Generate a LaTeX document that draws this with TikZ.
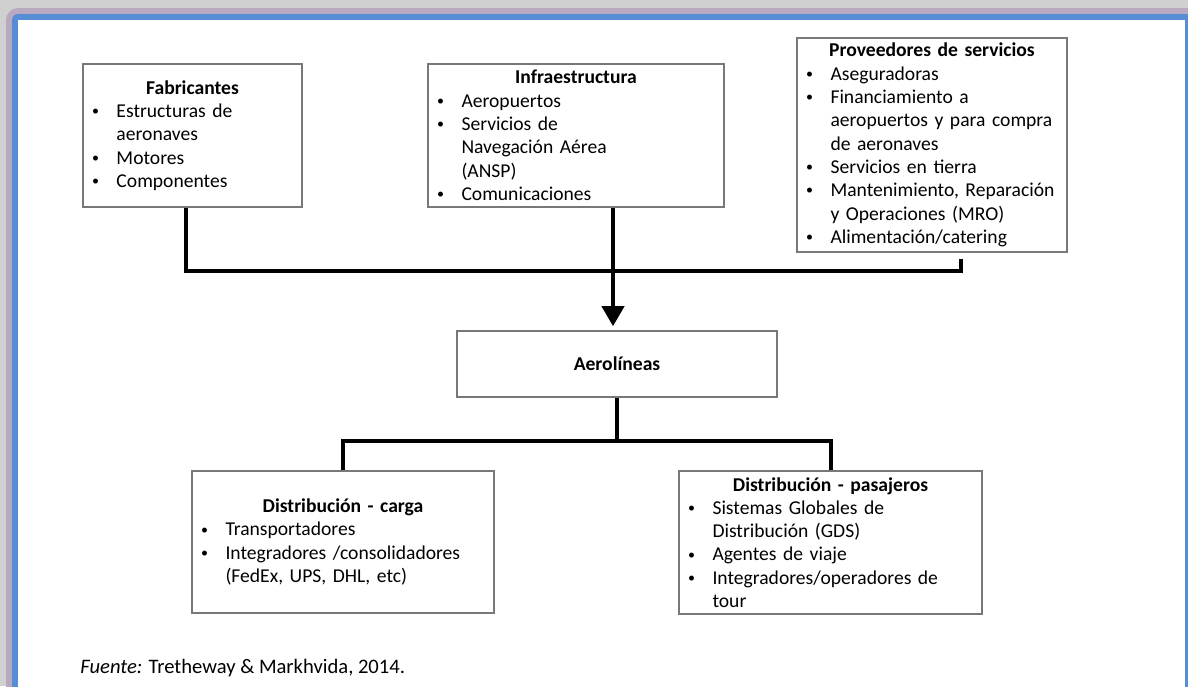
\documentclass[tikz,border=0pt]{standalone}
\usepackage{fontspec}
\setmainfont{Carlito}
\usetikzlibrary{arrows.meta, positioning, calc}
\definecolor{framegray}{RGB}{208, 208, 208}
\definecolor{framepurple}{RGB}{160, 130, 175}
\definecolor{frameblue}{RGB}{86, 142, 214}
\definecolor{boxgray}{RGB}{120, 120, 120}

\newcommand{\blockfont}{\fontsize{9.8}{11.65}\selectfont\spaceskip=0.19em plus 0.1em\relax}
\newcommand{\boxtitle}[1]{\noindent\makebox[\hsize][c]{\bfseries #1}\par}
\newcommand{\bitem}[1]{\noindent\hangindent=16.75pt\hangafter=1\makebox[16.75pt][l]{\hspace{4.6pt}\raisebox{0.9pt}{\fontsize{7}{7}\selectfont\textbullet}}#1\par}

\begin{document}
\begin{tikzpicture}[x=0.5pt, y=-0.5pt,
  block/.style={draw=boxgray, line width=0.8pt, fill=white, inner xsep=0pt, inner ysep=0pt, align=left, font=\blockfont},
  link/.style={line width=2pt},
  arr/.style={line width=2pt, -{Triangle[width=11pt,length=10pt]}, shorten >=2pt}]

  \useasboundingbox (0,0) rectangle (1188,686);

  % Frame
  \fill[framegray] (0,0) rectangle (1188,686);
  \fill[framepurple!50!framegray, rounded corners=6pt] (6,8) rectangle (1200,700);
  \fill[frameblue, rounded corners=3pt] (12,14) rectangle (1200,700);
  \fill[white] (18,20) rectangle (1185,700);

  % Fabricantes
  \node[block, text width=109.5pt, minimum height=71.5pt] (fab) at (192.5,135.5) {
    \boxtitle{Fabricantes}
    \bitem{Estructuras de\newline aeronaves}
    \bitem{Motores}
    \bitem{Componentes}
  };

  % Infraestructura
  \node[block, text width=148pt, minimum height=71.5pt] (infra) at (576,135.5) {
    \boxtitle{Infraestructura}
    \bitem{Aeropuertos}
    \bitem{Servicios de\newline Navegación Aérea\newline (ANSP)}
    \bitem{Comunicaciones}
  };

  % Proveedores de servicios
  \node[block, text width=135pt, minimum height=107pt] (prov) at (932,145) {
    \boxtitle{Proveedores de servicios}
    \bitem{Aseguradoras}
    \bitem{Financiamiento a\newline aeropuertos y para compra\newline de aeronaves}
    \bitem{Servicios en tierra}
    \bitem{Mantenimiento, Reparación\newline y Operaciones (MRO)}
    \bitem{Alimentación/catering}
  };

  % Aerolineas
  \node[block, minimum width=160pt, minimum height=33pt] (aero) at (617,364) {\bfseries Aerolíneas};

  % Distribucion
  \node[block, text width=151pt, minimum height=71pt] (carga) at (343,542) {
    \boxtitle{Distribución - carga}
    \bitem{Transportadores}
    \bitem{Integradores /consolidadores\newline (FedEx, UPS, DHL, etc)}
  };
  \node[block, text width=151.5pt, minimum height=71.5pt] (pas) at (830.5,542.5) {
    \boxtitle{Distribución - pasajeros}
    \bitem{Sistemas Globales de\newline Distribución (GDS)}
    \bitem{Agentes de viaje}
    \bitem{Integradores/operadores de\newline tour}
  };

  % Connectors
  \coordinate (fabdrop) at ($(fab.south)+(-6.5,0)$);
  \coordinate (provdrop) at ($(prov.south)+(29,6)$);
  \coordinate (infradrop) at ($(infra.south)+(37,0)$);
  \draw[link] (fabdrop) |- ($(provdrop)+(0,12)$) -- (provdrop);
  \draw[arr] (infradrop) -- (infradrop |- aero.north);
  \draw[link] (aero.south) -- ++(0,43) coordinate (split);
  \draw[link] (carga.north) |- (split) -| (pas.north);

  % Source
  \node[anchor=west, inner sep=0pt, font=\fontsize{10.3}{12}\selectfont] (fuente) at (80,668) {\textit{Fuente:} Tretheway \& Markhvida, 2014.};
\end{tikzpicture}
\end{document}
